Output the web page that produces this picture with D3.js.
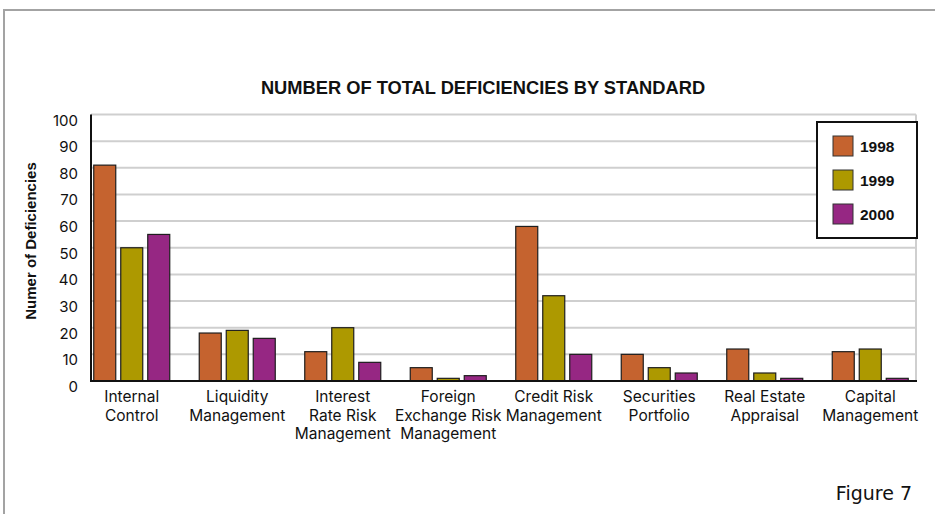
<!DOCTYPE html>
<html>
<head>
<meta charset="utf-8">
<script src="https://cdn.jsdelivr.net/npm/d3@7"></script>
<style>
  html, body { margin: 0; padding: 0; background: #fff; }
  svg { display: block; }
</style>
</head>
<body>
<svg id="chart" width="935" height="514"></svg>
<script>
// Deficiency counts per standard, by examination year
const categories = [
  "Internal\nControl",
  "Liquidity\nManagement",
  "Interest\nRate Risk\nManagement",
  "Foreign\nExchange Risk\nManagement",
  "Credit Risk\nManagement",
  "Securities\nPortfolio",
  "Real Estate\nAppraisal",
  "Capital\nManagement"
];
const years = ["1998", "1999", "2000"];
const values1998 = [81, 18, 11, 5, 58, 10, 12, 11];
const values1999 = [50, 19, 20, 1, 32, 5, 3, 12];
const values2000 = [55, 16, 7, 2, 10, 3, 1, 1];
const yTicks = [0, 10, 20, 30, 40, 50, 60, 70, 80, 90, 100];
const colors = ["#C5632F", "#AD9900", "#962783"];

const series = [values1998, values1999, values2000];

const svg = d3.select("#chart");

// outer frame
svg.append("rect")
  .attr("x", 4).attr("y", 10)
  .attr("width", 950).attr("height", 520)
  .attr("fill", "none")
  .attr("stroke", "#a3a3a3")
  .attr("stroke-width", 2);

const plot = { left: 91, right: 916, top: 114.5, bottom: 381 };

const y = d3.scaleLinear().domain([0, 100]).range([plot.bottom, plot.top]);
const x0 = d3.scaleBand().domain(categories).range([79, 923]).padding(0);
const groupWidth = 76;
const x1 = d3.scaleBand().domain(years).range([0, groupWidth])
  .paddingInner(5 / 27).paddingOuter(0);

// gridlines
svg.append("g")
  .selectAll("line")
  .data(yTicks.filter(t => t > 0))
  .join("line")
  .attr("x1", plot.left).attr("x2", plot.right)
  .attr("y1", d => y(d)).attr("y2", d => y(d))
  .attr("stroke", "#cfcfcf")
  .attr("stroke-width", 2);

// right edge of the plot frame
svg.append("line")
  .attr("x1", plot.right).attr("x2", plot.right)
  .attr("y1", plot.top).attr("y2", plot.bottom)
  .attr("stroke", "#cfcfcf")
  .attr("stroke-width", 2);

// bars
const groups = svg.append("g")
  .selectAll("g")
  .data(categories)
  .join("g")
  .attr("transform", c => `translate(${x0(c) + (x0.bandwidth() - groupWidth) / 2},0)`);

groups.selectAll("rect")
  .data((c, i) => years.map((yr, s) => ({ yr, s, v: series[s][i] })))
  .join("rect")
  .attr("x", d => x1(d.yr))
  .attr("y", d => y(d.v))
  .attr("width", x1.bandwidth())
  .attr("height", d => y(0) - y(d.v))
  .attr("fill", d => colors[d.s])
  .attr("stroke", "#1e1e1e")
  .attr("stroke-width", 1.2);

// axes lines
svg.append("line")
  .attr("x1", plot.left).attr("x2", plot.left)
  .attr("y1", plot.top).attr("y2", plot.bottom + 1)
  .attr("stroke", "#111").attr("stroke-width", 2);
svg.append("line")
  .attr("x1", plot.left).attr("x2", plot.right + 1)
  .attr("y1", plot.bottom).attr("y2", plot.bottom)
  .attr("stroke", "#111").attr("stroke-width", 2);

// y tick labels
svg.append("g")
  .selectAll("text")
  .data(yTicks)
  .join("text")
  .attr("x", 78)
  .attr("y", d => y(d) + 11)
  .attr("text-anchor", "end")
  .attr("font-family", "Inter, sans-serif")
  .attr("font-size", 15)
  .attr("fill", "#111")
  .text(d => d);

// category labels
const catLabels = svg.append("g")
  .selectAll("text")
  .data(categories)
  .join("text")
  .attr("x", c => x0(c) + x0.bandwidth() / 2)
  .attr("y", 402)
  .attr("text-anchor", "middle")
  .attr("font-family", "Inter, sans-serif")
  .attr("font-size", 15.5)
  .attr("fill", "#111");
catLabels.selectAll("tspan")
  .data(c => c.split("\n"))
  .join("tspan")
  .attr("x", function () { return d3.select(this.parentNode).attr("x"); })
  .attr("dy", (d, i) => i === 0 ? 0 : 18.5)
  .text(d => d);

// chart title
svg.append("text")
  .attr("x", 483)
  .attr("y", 94)
  .attr("text-anchor", "middle")
  .attr("font-family", "'Liberation Sans', Arial, sans-serif")
  .attr("font-weight", "bold")
  .attr("font-size", 18.3)
  .attr("fill", "#111")
  .text("NUMBER OF TOTAL DEFICIENCIES BY STANDARD");

// y axis title
svg.append("text")
  .attr("transform", "translate(36,241) rotate(-90)")
  .attr("text-anchor", "middle")
  .attr("font-family", "'Liberation Sans', Arial, sans-serif")
  .attr("font-weight", "bold")
  .attr("font-size", 15)
  .attr("fill", "#111")
  .text("Numer of Deficiencies");

// legend
const legend = svg.append("g");
legend.append("rect")
  .attr("x", 817).attr("y", 122)
  .attr("width", 100).attr("height", 116)
  .attr("fill", "#fff")
  .attr("stroke", "#111")
  .attr("stroke-width", 2);
const legendY = d3.scalePoint().domain(years).range([146, 214]);
const items = legend.selectAll("g.item")
  .data(years)
  .join("g")
  .attr("class", "item")
  .attr("transform", d => `translate(833,${legendY(d)})`);
items.append("rect")
  .attr("x", 0).attr("y", -10)
  .attr("width", 20).attr("height", 20)
  .attr("fill", (d, i) => colors[i])
  .attr("stroke", "#333")
  .attr("stroke-width", 1);
items.append("text")
  .attr("x", 27).attr("y", 5.5)
  .attr("font-family", "'Liberation Sans', Arial, sans-serif")
  .attr("font-weight", "bold")
  .attr("font-size", 15.5)
  .attr("fill", "#111")
  .text(d => d);

// figure caption
svg.append("text")
  .attr("x", 912)
  .attr("y", 500)
  .attr("text-anchor", "end")
  .attr("font-family", "'DejaVu Sans', sans-serif")
  .attr("font-size", 19)
  .attr("fill", "#111")
  .text("Figure 7");
</script>
</body>
</html>
